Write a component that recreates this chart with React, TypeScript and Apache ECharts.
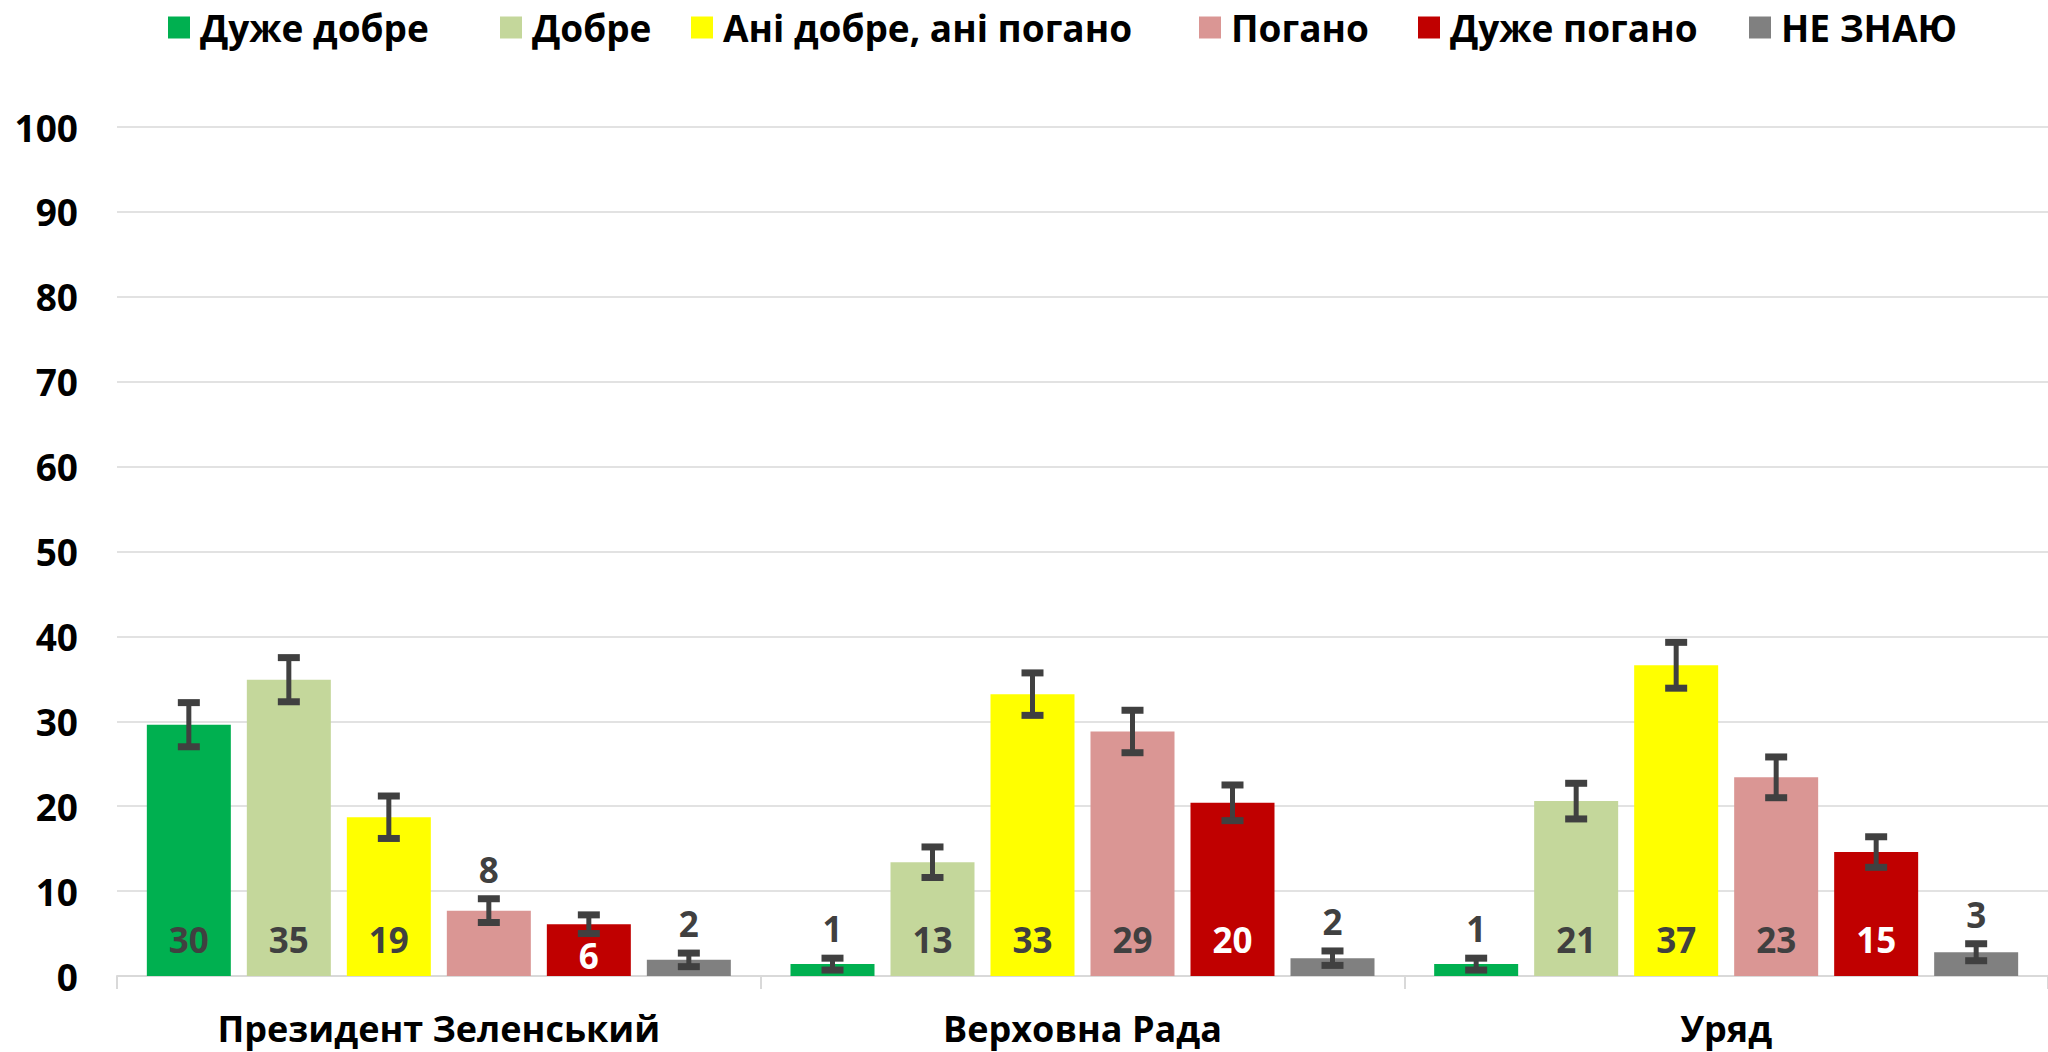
import React, { useEffect, useRef } from "react";
import * as echarts from "echarts";

const categories = ["Президент Зеленський", "Верховна Рада", "Уряд"];
const seriesNames = ["Дуже добре", "Добре", "Ані добре, ані погано", "Погано", "Дуже погано", "НЕ ЗНАЮ"];
const colors = ["#00b050", "#c4d79b", "#ffff00", "#da9694", "#c00000", "#808080"];

// values per series across categories
const veryGood = [29.6, 1.4, 1.4];
const good = [34.9, 13.4, 20.6];
const neutral = [18.7, 33.2, 36.6];
const bad = [7.7, 28.8, 23.4];
const veryBad = [6.1, 20.4, 14.6];
const dontKnow = [1.9, 2.1, 2.8];

// error half-widths
const errVeryGood = [2.6, 0.7, 0.7];
const errGood = [2.6, 1.8, 2.1];
const errNeutral = [2.5, 2.5, 2.7];
const errBad = [1.4, 2.5, 2.4];
const errVeryBad = [1.1, 2.1, 1.8];
const errDontKnow = [0.8, 0.85, 1.0];

const yTicks = { min: 0, max: 100, interval: 10 };

const values = [veryGood, good, neutral, bad, veryBad, dontKnow];
const errors = [errVeryGood, errGood, errNeutral, errBad, errVeryBad, errDontKnow];

const FONT = '"Open Sans", "Noto Sans", sans-serif';
const BAR_W = 84;
const BAR_GAP_PX = 16;
const RED_INDEX = 4;
const LEGEND_LEFTS = [168, 500, 691, 1199, 1418, 1749];

function labelAbove(si: number, v: number) {
  return si !== RED_INDEX && v < 10;
}

export default function App() {
  const ref = useRef<HTMLDivElement>(null);
  useEffect(() => {
    if (!ref.current) return;
    const chart = echarts.init(ref.current, undefined, { renderer: "svg" });

    const barSeries = values.map((vals, si) => ({
      name: seriesNames[si],
      type: "bar",
      barWidth: BAR_W,
      barGap: (BAR_GAP_PX / BAR_W) * 100 + "%",
      itemStyle: { color: colors[si] },
      data: vals.map((v) => ({
        value: v,
        label: {
          show: !labelAbove(si, v),
          position: "insideBottom",
          distance: v * 8.49 < 70 ? 3 : 19,
          formatter: () => String(Math.round(v)),
          color: si === RED_INDEX ? "#ffffff" : "#404040",
          fontSize: 35,
          fontWeight: "bold",
          fontFamily: FONT,
        },
      })),
      z: 2,
    }));

    const errSeries = values.map((vals, si) => ({
      name: "err-" + si,
      type: "custom",
      z: 5,
      silent: true,
      data: vals.map((v, ci) => [ci, v, errors[si][ci]]),
      encode: { x: 0, y: 1 },
      renderItem: (params: any, api: any) => {
        const ci = api.value(0);
        const v = api.value(1);
        const e = api.value(2);
        const offset = (si - 2.5) * (BAR_W + BAR_GAP_PX);
        const x = api.coord([ci, v])[0] + offset;
        const yTop = api.coord([ci, v + e])[1];
        const yBot = api.coord([ci, v - e])[1];
        const st = { fill: "#404040" };
        const children: any[] = [
          { type: "rect", shape: { x: x - 2.5, y: yTop, width: 5, height: yBot - yTop }, style: st },
          { type: "rect", shape: { x: x - 11, y: yTop - 3.5, width: 22, height: 7 }, style: st },
          { type: "rect", shape: { x: x - 11, y: yBot - 3.5, width: 22, height: 7 }, style: st },
        ];
        if (labelAbove(si, v)) {
          children.push({
            type: "text",
            x: x,
            y: yTop - 12,
            style: {
              text: String(Math.round(v)),
              fill: "#404040",
              fontSize: 35,
              fontWeight: "bold",
              fontFamily: FONT,
              align: "center",
              verticalAlign: "bottom",
            },
          });
        }
        return { type: "group", children };
      },
    }));

    const legends = seriesNames.map((name, i) => ({
      data: [name],
      top: 9,
      left: LEGEND_LEFTS[i],
      padding: 0,
      itemWidth: 22,
      itemHeight: 22,
      icon: "rect",
      selectedMode: false,
      textStyle: {
        fontSize: 37,
        fontWeight: "bold",
        fontFamily: FONT,
        color: "#000000",
        padding: [0, 0, 0, 5],
      },
    }));

    chart.setOption({
      animation: false,
      backgroundColor: "#ffffff",
      legend: legends,
      grid: { left: 117, top: 127, width: 1946, height: 849 },
      xAxis: {
        type: "category",
        data: categories,
        axisLine: { lineStyle: { color: "#d9d9d9", width: 2 } },
        axisTick: { show: true, length: 13, interval: 0, lineStyle: { color: "#d9d9d9", width: 2 } },
        axisLabel: {
          fontSize: 36,
          lineHeight: 40,
          fontWeight: "bold",
          fontFamily: FONT,
          color: "#000000",
          margin: 32,
          interval: 0,
        },
      },
      yAxis: {
        type: "value",
        min: yTicks.min,
        max: yTicks.max,
        interval: yTicks.interval,
        axisLine: { show: false },
        axisTick: { show: false },
        splitLine: { lineStyle: { color: "#d9d9d9", width: 1.5 } },
        axisLabel: {
          fontSize: 37,
          fontWeight: "bold",
          fontFamily: FONT,
          color: "#000000",
          margin: 39,
        },
      },
      series: [...barSeries, ...errSeries],
    });
    return () => chart.dispose();
  }, []);
  return (
    <div
      ref={ref}
      style={{ position: "fixed", left: 0, top: 0, width: 2048, height: 1052, background: "#fff" }}
    />
  );
}
